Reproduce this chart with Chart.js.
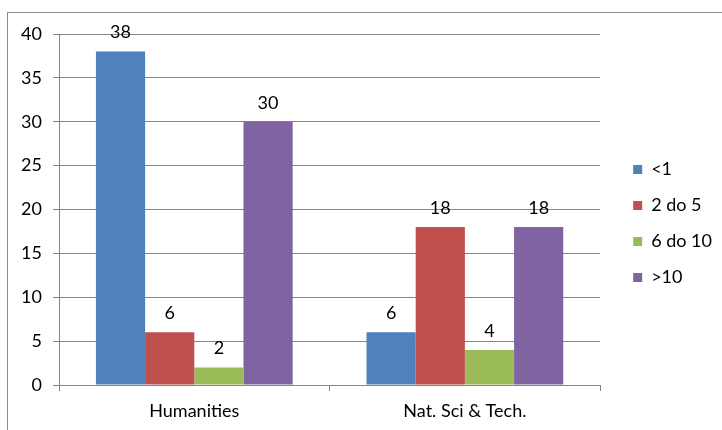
<!DOCTYPE html>
<html lang="en">
<head>
  <meta charset="UTF-8">
  <script src="https://cdn.jsdelivr.net/npm/chart.js"></script>
  <title>Grafico</title>
  <style>
    html, body { margin: 0; padding: 0; background: #fff; }
    .quadro { position: relative; width: 722px; height: 430px; overflow: hidden; }
    .moldura { position: absolute; left: 7px; top: 12px; width: 800px; height: 500px; border: 1px solid #8c8c8c; }
    canvas { position: absolute; left: 0; top: 0; }
  </style>
</head>
<body>
  <div class="quadro">
    <div class="moldura"></div>
    <canvas id="grafico" width="722" height="430"></canvas>
  </div>

<script>
  // dados
  const categorias = ['Humanities', 'Nat. Sci & Tech.'];
  const series = ['<1', '2 do 5', '6 do 10', '>10'];
  const menosDeUm = [38, 6];
  const doisACinco = [6, 18];
  const seisADez = [2, 4];
  const maisDeDez = [30, 18];
  const cores = ['#4F81BD', '#C0504D', '#9BBB59', '#8064A2'];
  const yMax = 40;
  const yPasso = 5;

  const valores = [menosDeUm, doisACinco, seisADez, maisDeDez];
  const fonte = { family: 'Lato', size: 18 };
  const cinza = '#868686';

  // rótulos com o valor acima de cada barra
  const rotulos = {
    id: 'rotulos',
    afterDatasetsDraw(chart) {
      const c = chart.ctx;
      c.save();
      c.font = fonte.size + 'px ' + fonte.family;
      c.fillStyle = '#000';
      c.textAlign = 'center';
      c.textBaseline = 'middle';
      chart.data.datasets.forEach((ds, i) => {
        chart.getDatasetMeta(i).data.forEach((bar, j) => {
          c.fillText(ds.data[j], bar.x, bar.y - 19);
        });
      });
      c.restore();
    }
  };

  new Chart(document.getElementById('grafico'), {
    type: 'bar',
    data: {
      labels: categorias,
      datasets: series.map((nome, i) => ({
        label: nome,
        data: valores[i],
        backgroundColor: cores[i],
        borderWidth: 0,
        categoryPercentage: 0.727,
        barPercentage: 1
      }))
    },
    options: {
      responsive: false,
      animation: false,
      layout: { padding: { top: 17, left: 0, right: 0, bottom: 0 } },
      plugins: {
        tooltip: { enabled: false },
        legend: {
          position: 'right',
          labels: {
            font: fonte,
            color: '#000',
            boxWidth: 9,
            boxHeight: 9,
            padding: 18
          }
        }
      },
      scales: {
        x: {
          grid: { drawOnChartArea: false, tickLength: 6, color: cinza },
          border: { color: cinza },
          ticks: { font: fonte, color: '#000', padding: 9 },
          afterFit: s => { s.height = 45; }
        },
        y: {
          min: 0,
          max: yMax,
          ticks: { stepSize: yPasso, font: fonte, color: '#000', padding: 11 },
          grid: { tickLength: 6, color: cinza },
          border: { color: cinza },
          afterFit: s => { s.width = 59; }
        },
        // espaços vazios para posicionar a área do gráfico
        folgaTopo: {
          axis: 'x',
          position: 'top',
          grid: { display: false },
          ticks: { display: false },
          border: { display: false },
          afterFit: s => { s.height = 17; }
        },
        folga: {
          position: 'right',
          grid: { display: false },
          ticks: { display: false },
          border: { display: false },
          afterFit: s => { s.width = 15; }
        }
      }
    },
    plugins: [rotulos]
  });
</script>
</body>
</html>
